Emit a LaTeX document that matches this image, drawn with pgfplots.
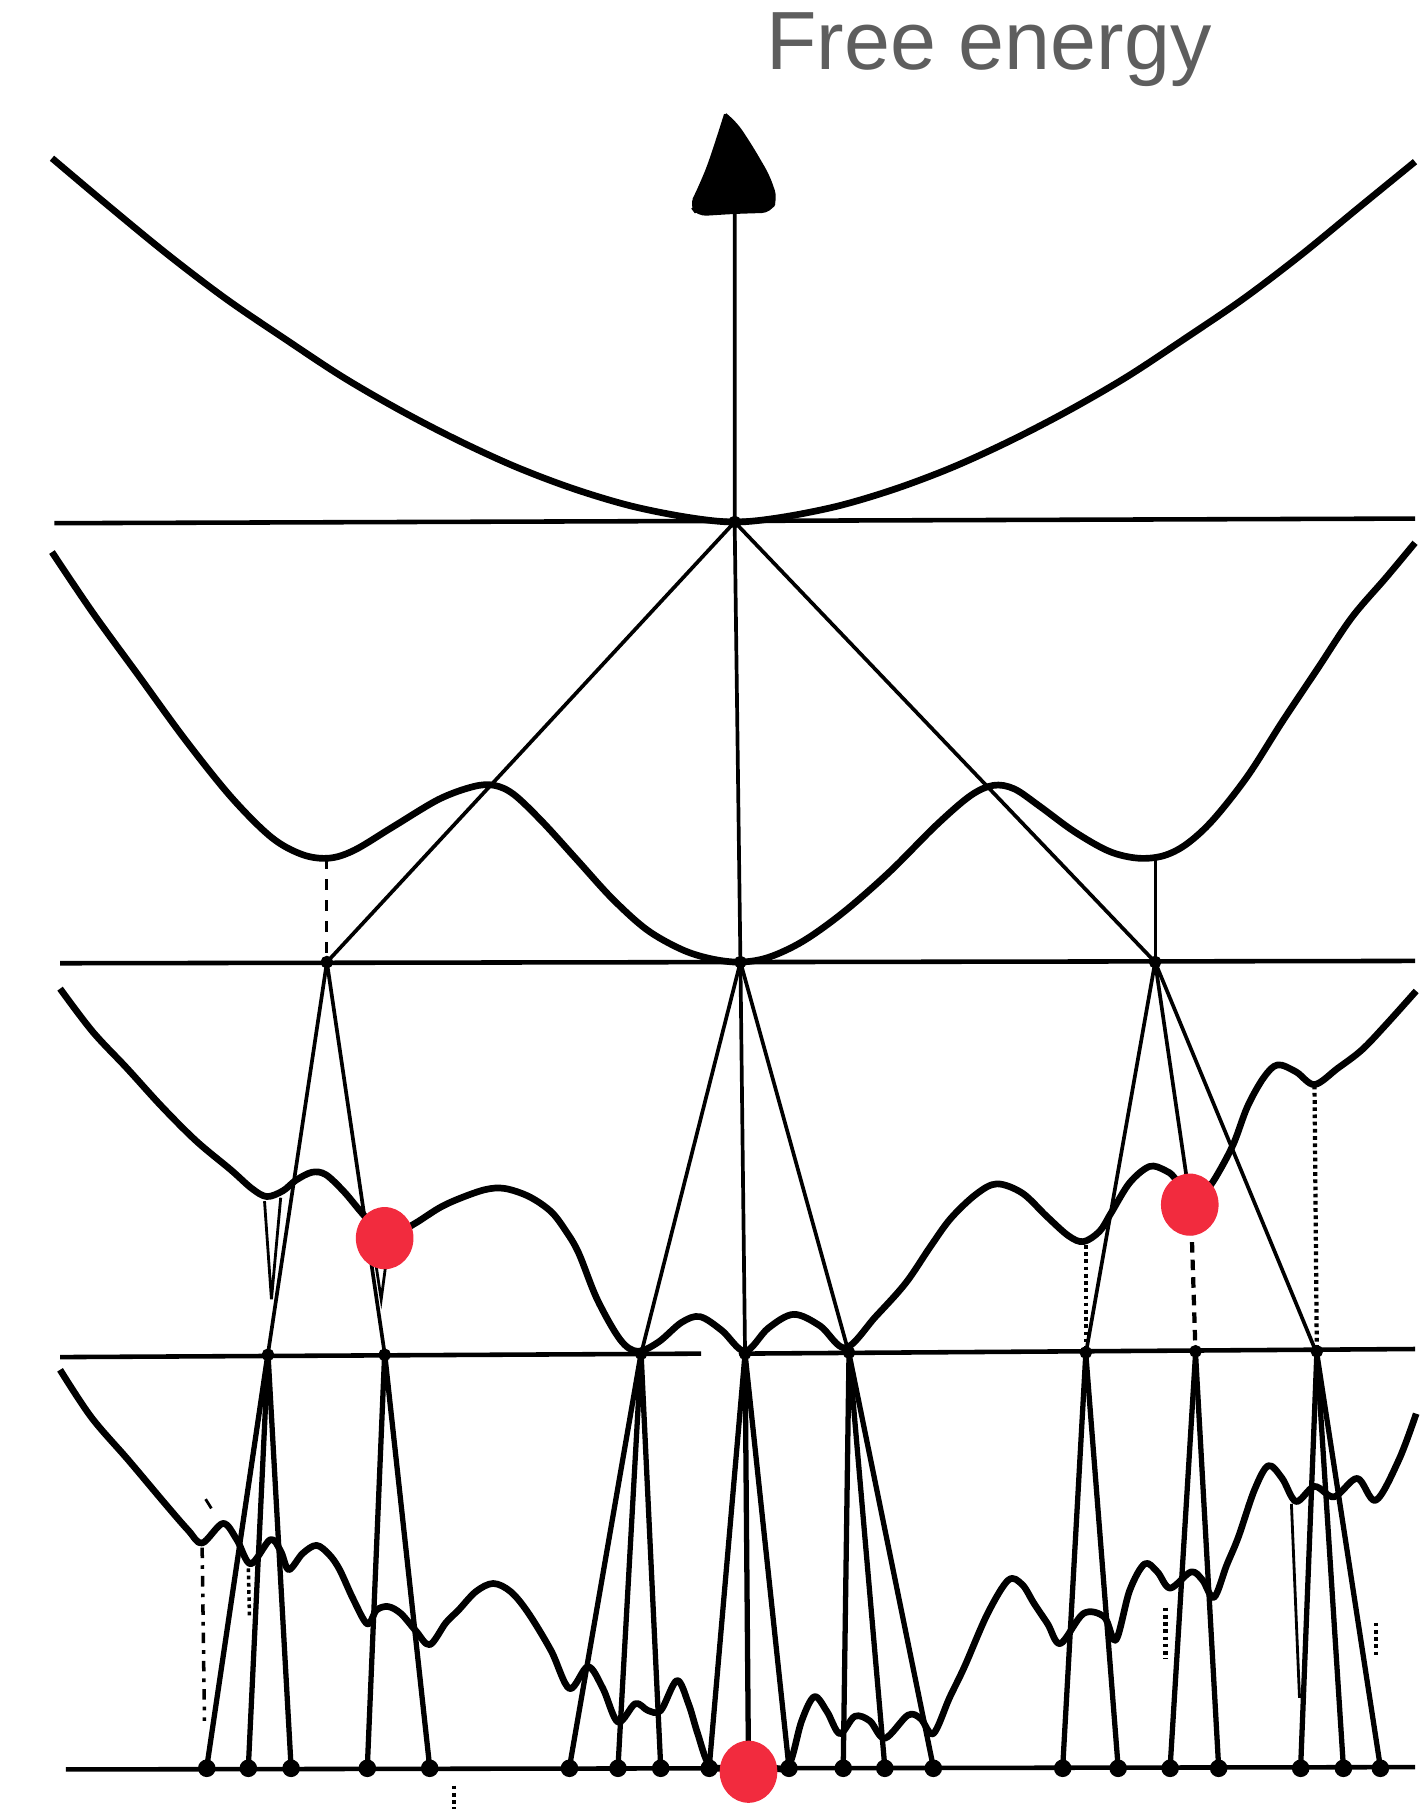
\documentclass[border=0pt]{standalone}
\usepackage{fontspec}
\setmainfont{Liberation Sans}
\usepackage{pgfplots}
\pgfplotsset{compat=1.18}
\definecolor{dotred}{HTML}{F22B3E}
\definecolor{titlegray}{HTML}{5E5E5E}
\begin{document}
\begin{tikzpicture}
\begin{axis}[width=14.15cm,height=18.11cm,scale only axis,
  xmin=0,xmax=1225,ymin=0,ymax=1568,y dir=reverse,hide axis,clip=false,
  curve/.style={black,line width=1.9pt,smooth,tension=0.55,mark=none,line join=round},
  ln/.style={black,line width=1.05pt,mark=none},
  fan/.style={black,line width=1.5pt,mark=none},
  hl/.style={black,line width=1.3pt,mark=none}]
\addplot[draw=none] coordinates {(0,0) (1225,1568)};
% title
\node[text=titlegray,font=\fontsize{23.5}{27}\selectfont] at (axis cs:856,43) {Free energy};
% arrow
\addplot[fill=black,draw=black,line width=0.8pt,rounded corners=2.5pt] coordinates {(628,99) (622,118) (613,145) (604,166) (598,178) (604,186) (636,184) (667,183) (672,172) (665,152) (651,128) (638,108) (628,99)};
% horizontal levels
\addplot[hl] coordinates {(47,453) (1225,449)};
\addplot[hl] coordinates {(52,834) (1225,832)};
\addplot[hl] coordinates {(52,1175) (607,1172)};
\addplot[hl] coordinates {(640,1172) (1225,1168)};
\addplot[hl] coordinates {(57,1532) (1225,1530)};
% vertical axis
\addplot[ln] coordinates {(636,183) (636,452) (641,833) (645,1172)};
% curve 1
\addplot[curve] coordinates {(45,137) (96,180) (146,221) (196,259) (246,293) (296,326) (346,355) (396,381) (446,404) (496,423) (546,438) (596,448) (636,452) (676,448) (726,438) (776,423) (826,404) (876,381) (926,355) (976,326) (1026,293) (1076,259) (1126,221) (1176,180) (1225,140)};
% curve 2
\addplot[curve] coordinates {(45,478) (80,530) (120,585) (160,640) (200,690) (235,725) (262,740) (285,743) (307,736) (340,716) (380,692) (410,681) (428,680) (445,688) (470,712) (500,745) (530,778) (560,805) (590,822) (615,830) (640,833) (665,829) (695,815) (730,790) (770,755) (810,715) (840,689) (860,680) (878,683) (900,698) (930,720) (960,737) (985,743) (1007,741) (1027,731) (1050,710) (1080,672) (1110,625) (1140,580) (1170,535) (1200,500) (1225,470)};
% lines L1 -> L2
\addplot[ln] coordinates {(636,452) (283,833)};
\addplot[ln] coordinates {(636,452) (1000,833)};
\addplot[ln,dashed,line width=0.9pt] coordinates {(283,743) (283,833)};
\addplot[ln,line width=0.8pt] coordinates {(1000,743) (1000,833)};
% curve 3
\addplot[curve] coordinates {(52,856) (80,893) (110,925) (140,958) (170,988) (200,1013) (218,1029) (231,1036) (245,1031) (256,1022) (270,1015) (282,1017) (298,1032) (314,1051) (334,1072) (358,1060) (380,1046) (397,1038) (420,1030) (437,1029) (458,1036) (477,1049) (490,1066) (501,1085) (517,1125) (537,1160) (552,1170) (570,1162) (590,1145) (606,1140) (625,1152) (645,1170) (665,1150) (687,1138) (710,1148) (732,1167) (758,1140) (784,1111) (805,1080) (823,1055) (845,1034) (863,1025) (885,1033) (906,1053) (925,1070) (938,1075) (952,1066) (962,1050) (978,1024) (995,1010) (1008,1013) (1017,1020) (1031,1043) (1045,1030) (1055,1015) (1068,990) (1080,958) (1094,933) (1106,922) (1122,928) (1138,939) (1158,925) (1179,909) (1200,887) (1226,858)};
% lines L2 -> L3
\addplot[ln] coordinates {(283,833) (232,1172)};
\addplot[ln] coordinates {(283,833) (333,1172)};
\addplot[ln,line width=0.8pt] coordinates {(229,1040) (235,1125) (243,1037)};
\addplot[ln,line width=0.8pt] coordinates {(322,1072) (330,1125) (337,1072)};
\addplot[ln] coordinates {(641,833) (555,1172)};
\addplot[ln] coordinates {(641,833) (735,1172)};
\addplot[ln] coordinates {(1000,833) (940,1172)};
\addplot[ln] coordinates {(1000,833) (1031,1045)};
\addplot[ln] coordinates {(1000,833) (1140,1172)};
\addplot[ln,densely dotted,line width=1.3pt] coordinates {(940,1078) (940,1172)};
\addplot[ln,densely dashed,line width=1.2pt] coordinates {(1031,1045) (1035,1172)};
\addplot[ln,densely dotted,line width=1.2pt] coordinates {(1138,940) (1140,1172)};
% curve 4
\addplot[curve] coordinates {(52,1186) (79,1227) (111,1264) (143,1302) (163,1325) (175,1336) (193,1319) (205,1333) (217,1354) (234,1333) (243,1343) (250,1359) (262,1345) (274,1338) (285,1346) (294,1359) (306,1385) (318,1406) (326,1394) (336,1391) (347,1397) (360,1412) (372,1424) (386,1405) (397,1394) (412,1378) (427,1371) (442,1378) (457,1396) (477,1429) (493,1462) (509,1443) (522,1462) (535,1491) (550,1475) (561,1481) (572,1481) (586,1455) (596,1475) (604,1501) (614,1528) (630,1531) (648,1532) (668,1531) (683,1528) (694,1490) (705,1469) (716,1482) (727,1501) (740,1486) (753,1490) (766,1505) (786,1485) (797,1488) (808,1501) (822,1470) (835,1443) (855,1397) (873,1368) (885,1372) (895,1388) (907,1406) (918,1423) (938,1397) (956,1400) (966,1420) (978,1377) (991,1354) (1002,1361) (1013,1375) (1031,1361) (1041,1368) (1051,1383) (1062,1355) (1072,1331) (1086,1290) (1098,1269) (1110,1280) (1122,1300) (1138,1287) (1155,1296) (1175,1280) (1191,1299) (1211,1264) (1226,1224)};
% fans L3 -> L4
\addplot[fan] coordinates {(232,1172) (179,1530)};
\addplot[fan] coordinates {(232,1172) (215,1530)};
\addplot[fan] coordinates {(232,1172) (252,1530)};
\addplot[fan] coordinates {(333,1172) (318,1530)};
\addplot[fan] coordinates {(333,1172) (372,1530)};
\addplot[fan] coordinates {(555,1172) (493,1530)};
\addplot[fan] coordinates {(555,1172) (535,1530)};
\addplot[fan] coordinates {(555,1172) (572,1530)};
\addplot[fan] coordinates {(645,1172) (614,1530)};
\addplot[fan] coordinates {(645,1172) (648,1530)};
\addplot[fan] coordinates {(645,1172) (683,1530)};
\addplot[fan] coordinates {(735,1172) (730,1530)};
\addplot[fan] coordinates {(735,1172) (766,1530)};
\addplot[fan] coordinates {(735,1172) (808,1530)};
\addplot[fan] coordinates {(940,1172) (920,1530)};
\addplot[fan] coordinates {(940,1172) (968,1530)};
\addplot[fan] coordinates {(1035,1172) (1013,1530)};
\addplot[fan] coordinates {(1035,1172) (1055,1530)};
\addplot[fan] coordinates {(1140,1172) (1126,1530)};
\addplot[fan] coordinates {(1140,1172) (1163,1530)};
\addplot[fan] coordinates {(1140,1172) (1195,1530)};
% slivers and dotted drops
\addplot[ln,line width=0.8pt] coordinates {(1118,1302) (1125,1470)};
\addplot[ln,dashdotted,line width=1.0pt] coordinates {(175,1340) (177,1490)};
\addplot[ln,densely dotted,line width=1.0pt] coordinates {(215,1358) (216,1400)};
\addplot[ln,densely dotted,line width=1.2pt] coordinates {(1009,1392) (1009,1436)};
\addplot[ln,densely dotted,line width=1.2pt] coordinates {(1191,1405) (1191,1436)};
\addplot[ln,densely dotted,line width=1.2pt] coordinates {(393,1546) (393,1566)};
\addplot[ln,line width=0.8pt] coordinates {(178,1298) (183,1306)};
% node blobs
\addplot[only marks,mark=*,mark size=2.3pt,black] coordinates {(179,1531) (215,1531) (252,1531) (318,1531) (372,1531) (493,1531) (535,1531) (572,1531) (614,1531) (683,1531) (730,1531) (766,1531) (808,1531) (920,1531) (968,1531) (1013,1531) (1055,1531) (1126,1531) (1163,1531) (1195,1531)};
\addplot[only marks,mark=*,mark size=1.6pt,black] coordinates {(232,1173) (333,1173) (555,1172) (645,1172) (735,1171) (940,1171) (1035,1170) (1140,1170) (283,833) (641,833) (1000,833) (636,452)};
% red dots
\addplot[only marks,mark=*,mark size=8pt,color=dotred,mark options={draw=dotred,fill=dotred,yscale=1.08}] coordinates {(333,1072) (1030,1043) (648,1534)};
\end{axis}
\end{tikzpicture}
\end{document}
